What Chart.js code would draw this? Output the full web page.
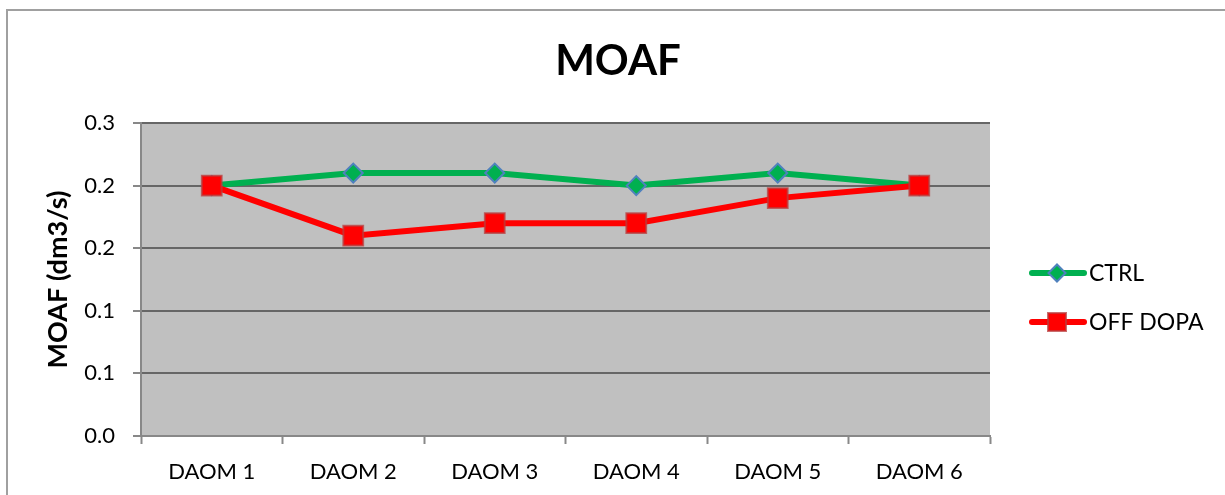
<!DOCTYPE html>
<html>
<head>
<meta charset="utf-8">
<script src="https://cdn.jsdelivr.net/npm/chart.js"></script>
<style>
  body { margin: 0; background: #fff; }
  #wrap { width: 1225px; height: 495px; }
</style>
</head>
<body>
<div id="wrap"><canvas id="moaf" width="1225" height="495"></canvas></div>
<script>
const categories = ['DAOM 1', 'DAOM 2', 'DAOM 3', 'DAOM 4', 'DAOM 5', 'DAOM 6'];
const ctrlValues = [0.20, 0.21, 0.21, 0.20, 0.21, 0.20];
const offDopaValues = [0.20, 0.16, 0.17, 0.17, 0.19, 0.20];
// excel rounded the 0.05 steps to one decimal
const yTickLabels = ['0.0', '0.1', '0.1', '0.2', '0.2', '0.3'];
const chartTitle = 'MOAF';

const FONT = 'Lato, "Open Sans", sans-serif';

const frame = {
  id: 'frame',
  beforeDraw(chart) {
    const { ctx, chartArea: a } = chart;
    ctx.save();
    ctx.fillStyle = '#fff';
    ctx.fillRect(0, 0, chart.width, chart.height);
    ctx.strokeStyle = '#a0a0a0';
    ctx.lineWidth = 2;
    ctx.strokeRect(7, 10, 1400, 700);
    ctx.fillStyle = '#c0c0c0';
    ctx.fillRect(a.left, a.top, a.right - a.left, a.bottom - a.top);
    ctx.restore();
  },
  afterDraw(chart) {
    // title is centred on the whole frame, not the plot
    const { ctx } = chart;
    ctx.save();
    ctx.fillStyle = '#000';
    ctx.font = 'bold 42px ' + FONT;
    ctx.textAlign = 'center';
    ctx.textBaseline = 'middle';
    ctx.fillText(chartTitle, 618, 61);
    ctx.restore();
  }
};

// legend with line + marker, excel style
const sideLegend = {
  id: 'sideLegend',
  afterDraw(chart) {
    const { ctx } = chart;
    const rows = [273, 322];
    ctx.save();
    chart.data.datasets.forEach((ds, i) => {
      const y = rows[i];
      ctx.strokeStyle = ds.borderColor;
      ctx.lineWidth = 6;
      ctx.lineCap = 'round';
      ctx.beginPath();
      ctx.moveTo(1032, y);
      ctx.lineTo(1084, y);
      ctx.stroke();
      ctx.fillStyle = ds.pointBackgroundColor;
      ctx.strokeStyle = ds.pointBorderColor;
      ctx.lineWidth = 2;
      ctx.beginPath();
      if (ds.pointStyle === 'rectRot') {
        const r = 8.5;
        ctx.moveTo(1057 - r, y);
        ctx.lineTo(1057, y - r);
        ctx.lineTo(1057 + r, y);
        ctx.lineTo(1057, y + r);
        ctx.closePath();
      } else {
        ctx.rect(1048, y - 9, 18, 18);
      }
      ctx.fill();
      ctx.stroke();
      ctx.fillStyle = '#000';
      ctx.font = '23px ' + FONT;
      ctx.textBaseline = 'middle';
      ctx.textAlign = 'left';
      ctx.fillText(ds.label, 1089, y + 1);
    });
    ctx.restore();
  }
};

new Chart(document.getElementById('moaf'), {
  type: 'line',
  data: {
    labels: categories,
    datasets: [
      {
        label: 'CTRL',
        data: ctrlValues,
        order: 1,
        borderColor: '#00b050',
        borderWidth: 6,
        tension: 0,
        pointStyle: 'rectRot',
        pointRadius: 9.5,
        pointHoverRadius: 9.5,
        pointBackgroundColor: '#00b050',
        pointBorderColor: '#4f81bd',
        pointBorderWidth: 2
      },
      {
        label: 'OFF DOPA',
        data: offDopaValues,
        order: 0,
        borderColor: '#ff0000',
        borderWidth: 6,
        tension: 0,
        pointStyle: 'rect',
        pointRadius: 14,
        pointHoverRadius: 14,
        pointBackgroundColor: '#ff0000',
        pointBorderColor: 'rgba(185,60,60,0.75)',
        pointBorderWidth: 2
      }
    ]
  },
  options: {
    responsive: false,
    animation: false,
    layout: { padding: { left: 0, right: 235, top: 123, bottom: 0 } },
    plugins: {
      legend: { display: false },
      tooltip: { enabled: false },
      title: { display: false }
    },
    scales: {
      x: {
        offset: true,
        afterFit(scale) { scale.height = 59; },
        grid: {
          offset: true,
          drawOnChartArea: false,
          tickLength: 8,
          tickColor: '#888',
          tickWidth: 2
        },
        border: { color: '#888', width: 2 },
        ticks: {
          color: '#000',
          padding: 15,
          font: { family: FONT, size: 22 }
        }
      },
      y: {
        min: 0,
        max: 0.25,
        afterFit(scale) { scale.width = 141; },
        ticks: {
          stepSize: 0.05,
          color: '#000',
          padding: 18,
          font: { family: FONT, size: 22 },
          callback: (v, i) => yTickLabels[i]
        },
        grid: {
          color: c => (c.tick && c.tick.value === 0 ? 'rgba(0,0,0,0)' : '#666'),
          lineWidth: 2,
          tickLength: 8,
          tickColor: '#888',
          tickWidth: 2
        },
        border: { color: '#888', width: 2 },
        title: {
          display: true,
          text: 'MOAF (dm3/s)',
          color: '#000',
          font: { family: FONT, size: 27, weight: 'bold', lineHeight: 1.2 },
          padding: { top: 42, bottom: 0 }
        }
      }
    }
  },
  plugins: [frame, sideLegend]
});
</script>
</body>
</html>
